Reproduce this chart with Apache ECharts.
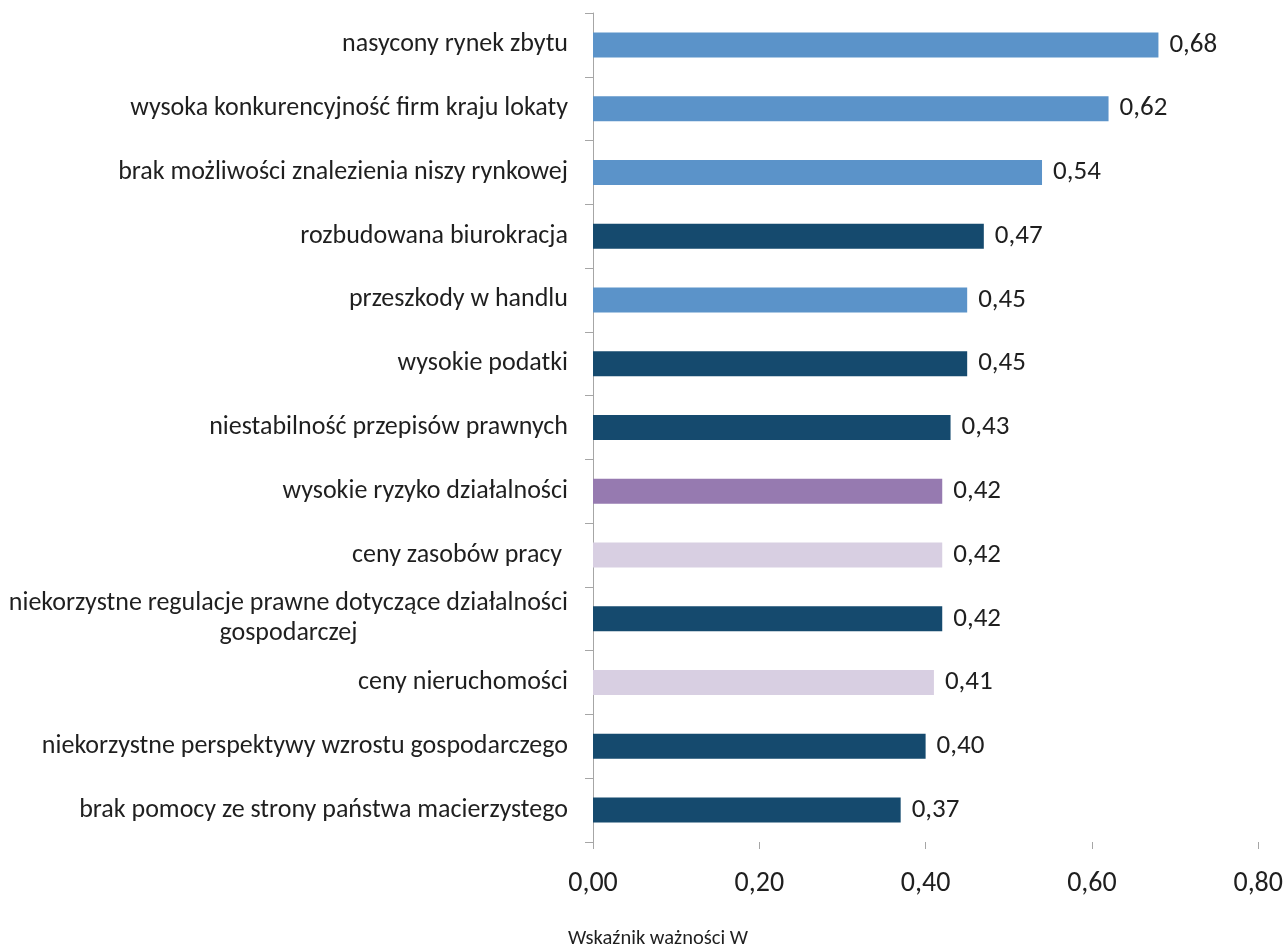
<!DOCTYPE html>
<html>
<head>
<meta charset="utf-8">
<script src="https://cdn.jsdelivr.net/npm/echarts@6/dist/echarts.min.js"></script>
<style>
  html, body { margin: 0; padding: 0; background: #ffffff; }
  #chart { width: 1286px; height: 948px; }
</style>
</head>
<body>
<div id="chart"></div>
<script>
// Bariery działalności – wskaźnik ważności W (od góry do dołu)
const categories = [
  'nasycony rynek zbytu',
  'wysoka konkurencyjność firm kraju lokaty',
  'brak możliwości znalezienia niszy rynkowej',
  'rozbudowana biurokracja',
  'przeszkody w handlu',
  'wysokie podatki',
  'niestabilność przepisów prawnych',
  'wysokie ryzyko działalności',
  'ceny zasobów pracy ',
  'niekorzystne regulacje prawne dotyczące działalności\ngospodarczej',
  'ceny nieruchomości',
  'niekorzystne perspektywy wzrostu gospodarczego',
  'brak pomocy ze strony państwa macierzystego'
];
const values = [0.68, 0.62, 0.54, 0.47, 0.45, 0.45, 0.43, 0.42, 0.42, 0.42, 0.41, 0.40, 0.37];
// grupa barier, wyznacza kolor słupka
const groups = ['rynek', 'rynek', 'rynek', 'prawo', 'rynek', 'prawo', 'prawo', 'ryzyko', 'koszty', 'prawo', 'koszty', 'prawo', 'prawo'];
const xTicks = [0, 0.2, 0.4, 0.6, 0.8];
const axisTitle = 'Wskaźnik ważności W';

const groupColors = {
  rynek: '#5B93C9',
  prawo: '#154A6E',
  ryzyko: '#967AB0',
  koszty: '#D8CFE2'
};

const FONT = 'Calibri, Carlito, Lato, sans-serif';
const TEXT = '#1f1f1f';
const fmt = v => v.toFixed(2).replace('.', ',');

const chart = echarts.init(document.getElementById('chart'), null, { renderer: 'canvas' });
chart.setOption({
  backgroundColor: '#ffffff',
  animation: false,
  grid: { left: 593, right: 27, top: 13, bottom: 106, containLabel: false },
  xAxis: {
    type: 'value',
    min: xTicks[0],
    max: xTicks[xTicks.length - 1],
    interval: 0.2,
    axisLine: { show: false },
    axisTick: { show: true, length: 7, lineStyle: { color: '#A6A6A6', width: 1 } },
    splitLine: { show: false },
    axisLabel: {
      margin: 28,
      fontFamily: FONT,
      fontSize: 28,
      color: TEXT,
      formatter: fmt
    }
  },
  yAxis: {
    type: 'category',
    inverse: true,
    data: categories,
    axisLine: { show: true, lineStyle: { color: '#A6A6A6', width: 1 } },
    axisTick: { show: true, length: 8, lineStyle: { color: '#A6A6A6', width: 1 } },
    axisLabel: {
      margin: 25,
      fontFamily: FONT,
      fontSize: 26,
      color: TEXT,
      lineHeight: 30,
      formatter: s => {
        const lines = s.split('\n');
        return lines.map((l, i) => i === 0 ? l : '{c|' + l + '}').join('\n');
      },
      rich: {
        c: { align: 'center', fontFamily: FONT, fontSize: 26, color: TEXT, lineHeight: 30 }
      }
    }
  },
  series: [{
    type: 'bar',
    barWidth: 25,
    data: values.map((v, i) => ({
      value: v,
      itemStyle: { color: groupColors[groups[i]] }
    })),
    label: {
      show: true,
      position: 'right',
      distance: 11,
      fontFamily: FONT,
      fontSize: 27,
      color: TEXT,
      formatter: p => fmt(p.value)
    }
  }],
  graphic: [{
    type: 'text',
    left: 568,
    top: 928,
    style: { text: axisTitle, fontFamily: FONT, fontSize: 20.5, fill: TEXT }
  }]
});
</script>
</body>
</html>
